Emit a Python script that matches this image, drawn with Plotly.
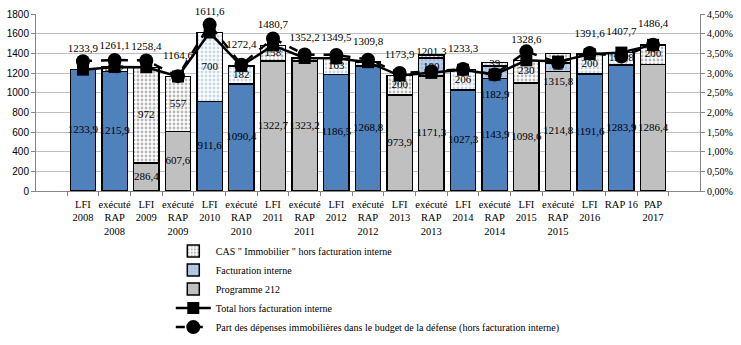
import plotly.graph_objects as go

categories = ["LFI<br>2008", "exécuté<br>RAP<br>2008", "LFI<br>2009", "exécuté<br>RAP<br>2009",
              "LFI<br>2010", "exécuté<br>RAP<br>2010", "LFI<br>2011", "exécuté<br>RAP<br>2011",
              "LFI<br>2012", "exécuté<br>RAP<br>2012", "LFI<br>2013", "exécuté<br>RAP<br>2013",
              "LFI<br>2014", "exécuté<br>RAP<br>2014", "LFI<br>2015", "exécuté<br>RAP<br>2015",
              "LFI<br>2016", "RAP 16", "PAP<br>2017"]

programme_212 = [1233.9, 1215.9, 286.4, 607.6, 911.6, 1090.4, 1322.7, 1323.2, 1186.5, 1268.8,
                 973.9, 1171.3, 1027.3, 1143.9, 1098.6, 1214.8, 1191.6, 1283.9, 1286.4]
blue_year = [1, 1, 0, 0, 1, 1, 0, 0, 1, 1, 0, 0, 1, 1, 0, 0, 1, 1, 0]
facturation_interne = [0, 0, 0, 0, 0, 0, 0, 0, 0, 0, 0, 180, 0, 126, 0, 85, 0, 0, 0]
facturation_label = [0, 0, 0, 0, 0, 0, 0, 0, 0, 0, 0, 1, 0, 0, 0, 1, 0, 0, 0]
cas_immobilier = [0, 45.2, 972, 557, 700, 182, 158, 29, 163, 41, 200, 30, 206, 39, 230, 101, 200, 123.8, 200]
cas_label = [0, 1, 1, 1, 1, 1, 1, 0, 1, 0, 1, 0, 1, 1, 1, 0, 1, 1, 1]
total_hors_fi = [1233.9, 1261.1, 1258.4, 1164.6, 1611.6, 1272.4, 1480.7, 1352.2, 1349.5, 1309.8,
                 1173.9, 1201.3, 1233.3, 1182.9, 1328.6, 1315.8, 1391.6, 1407.7, 1486.4]
total_label_below = [0, 0, 0, 0, 0, 0, 0, 0, 0, 0, 0, 0, 0, 1, 0, 1, 0, 0, 0]
part_budget_pct = [3.30, 3.33, 3.32, 2.92, 4.23, 3.21, 3.88, 3.47, 3.46, 3.34,
                   3.00, 3.04, 3.10, 2.96, 3.55, 3.26, 3.51, 3.42, 3.72]


def fr(v):
    if float(v).is_integer():
        return str(int(v))
    return f"{v:.1f}".replace(".", ",")


BLUE = "#4F81BD"
GREY = "#C0C0C0"
SERIF = "Liberation Serif"
LABEL_FONT = dict(family=SERIF, size=11, color="black")
OUTLINE = dict(color="black", width=1.5)

fig = go.Figure()

# Programme 212 (grey years) - shown in legend
fig.add_trace(go.Bar(
    x=categories,
    y=[v if not b else None for v, b in zip(programme_212, blue_year)],
    name="Programme 212",
    marker=dict(color=GREY, line=OUTLINE),
    legendrank=3, hoverinfo="skip",
))
# Programme 212 (blue years)
fig.add_trace(go.Bar(
    x=categories,
    y=[v if b else None for v, b in zip(programme_212, blue_year)],
    name="Programme 212 ", showlegend=False,
    marker=dict(color=BLUE, line=OUTLINE), hoverinfo="skip",
))
# Facturation interne
fig.add_trace(go.Bar(
    x=categories, y=facturation_interne,
    name="Facturation interne",
    marker=dict(color="#B9CDE5", line=OUTLINE,
                pattern=dict(shape=".", fgcolor="#7FA3D0", bgcolor="#B9CDE5", size=4, solidity=0.3)),
    legendrank=2, hoverinfo="skip",
))
# CAS Immobilier
cas_fg = ["#6F6F6F" if (i == 0 or not b) else "#8EADD6" for i, b in enumerate(blue_year)]
fig.add_trace(go.Bar(
    x=categories, y=cas_immobilier,
    name="CAS \" Immobilier \" hors facturation interne",
    marker=dict(color="white", line=OUTLINE,
                pattern=dict(shape=".", fgcolor=cas_fg, bgcolor="white", size=4, solidity=0.4)),
    legendrank=1, hoverinfo="skip",
))

# Segment labels, placed at the middle of each stacked segment
seg_x, seg_y, seg_t = [], [], []
for c, p, f, fl, k, kl in zip(categories, programme_212, facturation_interne, facturation_label,
                               cas_immobilier, cas_label):
    seg_x.append(c); seg_y.append(p / 2); seg_t.append(fr(p))
    if fl:
        seg_x.append(c); seg_y.append(p + f / 2); seg_t.append(fr(f))
    if kl:
        seg_x.append(c); seg_y.append(p + f + k / 2); seg_t.append(fr(k))
fig.add_trace(go.Scatter(
    x=seg_x, y=seg_y, text=seg_t, mode="text", textposition="middle center",
    textfont=LABEL_FONT, showlegend=False, hoverinfo="skip",
))

# Total hors facturation interne
fig.add_trace(go.Scatter(
    x=categories, y=total_hors_fi,
    name="Total hors facturation interne",
    mode="lines+markers",
    line=dict(color="black", width=2.5),
    marker=dict(symbol="square", size=12, color="black"),
    legendrank=4,
))
# Part des dépenses immobilières
fig.add_trace(go.Scatter(
    x=categories, y=[p / 100 for p in part_budget_pct],
    name="Part des dépenses immobilières dans le budget de la défense (hors facturation interne)",
    mode="lines+markers",
    line=dict(color="black", width=2.5, dash="dash"),
    marker=dict(symbol="circle", size=14, color="black"),
    yaxis="y2", legendrank=5,
))
# Total labels
fig.add_trace(go.Scatter(
    x=categories, y=total_hors_fi, mode="markers+text",
    marker=dict(size=22, color="rgba(0,0,0,0)"),
    text=[fr(v) for v in total_hors_fi],
    textposition=["bottom center" if b else "top center" for b in total_label_below],
    textfont=LABEL_FONT, showlegend=False, hoverinfo="skip", cliponaxis=False,
))

axis_line = "#868686"
fig.update_layout(
    width=741, height=345, autosize=False,
    margin=dict(l=36, r=41, t=14, b=154, pad=0, autoexpand=False),
    paper_bgcolor="white", plot_bgcolor="white",
    barmode="stack", bargap=0.2,
    separators=", ",
    font=dict(family=SERIF, size=10, color="black"),
    xaxis=dict(
        type="category", tickfont=dict(family=SERIF, size=10.5, color="black"),
        tickangle=0, automargin=False, ticklabelstandoff=3,
        ticks="outside", tickson="boundaries", ticklen=4, tickcolor=axis_line,
        showline=True, linecolor=axis_line, linewidth=1, showgrid=False,
    ),
    yaxis=dict(
        range=[0, 1800], dtick=200, tick0=0, automargin=False,
        tickfont=dict(family="Liberation Sans", size=10, color="black"),
        ticks="outside", ticklen=4, tickcolor=axis_line,
        showline=True, linecolor=axis_line, gridcolor="#BFBFBF", gridwidth=1,
        zeroline=False,
    ),
    yaxis2=dict(
        overlaying="y", side="right", range=[0, 0.045], dtick=0.005, tick0=0,
        tickformat=".2%", tickfont=dict(family=SERIF, size=10, color="black"),
        ticks="outside", ticklen=4, tickcolor=axis_line, automargin=False,
        showline=True, linecolor=axis_line, showgrid=False, zeroline=False,
    ),
    legend=dict(
        x=0.203, y=-0.2576, xanchor="left", yanchor="top",
        orientation="v", traceorder="normal",
        font=dict(family=SERIF, size=10, color="black"),
        bgcolor="rgba(0,0,0,0)", itemwidth=35, tracegroupgap=0,
    ),
)

fig.write_html("out.html")
